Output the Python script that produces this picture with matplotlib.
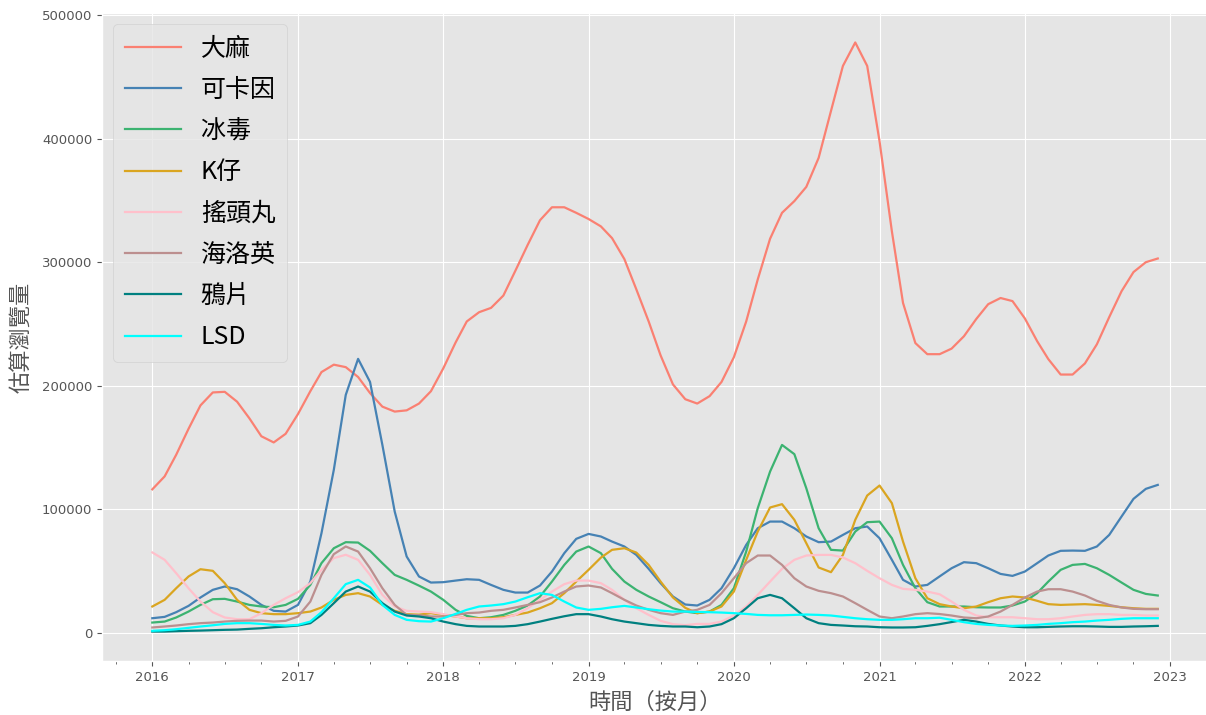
import matplotlib
matplotlib.use("Agg")
import matplotlib.pyplot as plt
import matplotlib.dates as mdates
import pandas as pd

# ---- data (monthly, 2016-01 .. 2022-12) ----
dates = pd.date_range("2016-01-01", periods=84, freq="MS")

labels = ["大麻", "可卡因", "冰毒", "K仔", "搖頭丸", "海洛英", "鴉片", "LSD"]
colors = ["salmon", "steelblue", "mediumseagreen", "goldenrod", "pink", "rosybrown", "teal", "cyan"]

cannabis = [116000, 126500, 144000, 165000, 184000, 194500, 195000, 187000, 173500, 159000, 154000, 161000,
            177000, 195500, 211000, 217000, 215000, 207000, 194000, 183000, 179000, 180000, 185500, 195500,
            214000, 235000, 252000, 259500, 263000, 273000, 293000, 314000, 334000, 344500, 344500, 340000,
            335000, 329000, 319500, 302500, 278000, 252000, 224500, 201000, 189000, 185500, 191500, 203000,
            223000, 252000, 286000, 319000, 340000, 349500, 361000, 384500, 422500, 459000, 478000, 459000,
            398000, 325000, 267000, 234500, 225500, 225500, 230000, 240000, 254000, 266000, 271000, 268500,
            254500, 236000, 221500, 209000, 209000, 218000, 233500, 255500, 276500, 292000, 300000, 303000]

cocaine = [11600, 12700, 16500, 21600, 28400, 34600, 37300, 35100, 29200, 22400, 17600, 17000,
           22400, 41300, 80500, 131800, 192500, 221700, 203000, 152000, 98000, 61600, 45400, 40500,
           40800, 42100, 43200, 42700, 38600, 34600, 32400, 32400, 38100, 49400, 64300, 75900,
           79900, 77800, 73700, 69700, 62900, 51600, 40000, 29200, 22700, 21900, 26500, 35900,
           52100, 71000, 84500, 89900, 89900, 84500, 77800, 73200, 73700, 79100, 84500, 85900,
           76400, 58900, 42700, 37300, 38600, 45500, 52100, 57000, 56200, 52100, 47500, 45900,
           49400, 56200, 62400, 66200, 66400, 66200, 69700, 79100, 94000, 108300, 116400, 119600]

meth = [8100, 8900, 12200, 17000, 22400, 27000, 27300, 25100, 22400, 21100, 20500, 22400,
        27300, 38600, 56200, 68300, 73200, 72900, 66200, 56200, 46700, 42700, 38000, 33200,
        26500, 18400, 13500, 11600, 12400, 14300, 17600, 21900, 29200, 41300, 54800, 65600,
        69700, 64300, 51600, 41300, 34600, 29200, 24600, 19700, 17000, 15700, 17000, 22400,
        35900, 65600, 100700, 130400, 152000, 144500, 116900, 84500, 67000, 66400, 81800, 89400,
        89900, 76400, 54800, 35900, 24600, 21100, 21100, 21100, 20500, 20300, 20300, 21900,
        25100, 31900, 41300, 50800, 54800, 55600, 52100, 46700, 40500, 34600, 31300, 30000]

ketamine = [21100, 26500, 35900, 45400, 51300, 50000, 40000, 26500, 18400, 15700, 14900, 14900,
            15700, 17000, 20300, 26500, 30500, 31900, 29200, 22400, 17600, 14900, 14500, 15700,
            14300, 13000, 11600, 11600, 11600, 12400, 14300, 16200, 19700, 23800, 31900, 41300,
            50800, 60700, 67000, 68300, 64800, 54800, 41300, 28400, 20000, 15700, 17000, 21100,
            33200, 58900, 81800, 101300, 104000, 91300, 72400, 52700, 48900, 62900, 91300, 111000,
            119100, 104800, 73700, 44000, 27800, 23000, 21100, 19700, 21100, 24600, 27800, 29200,
            28400, 25700, 23000, 22400, 22700, 23000, 22400, 21600, 20500, 19700, 19200, 19200]

ecstasy = [64900, 58900, 48100, 35900, 25100, 16500, 12200, 10800, 10800, 15700, 22400, 27800,
           32700, 40000, 50800, 60300, 63000, 58900, 46700, 30500, 21100, 17600, 17000, 16500,
           14900, 13000, 11600, 10800, 10800, 11600, 14300, 19700, 26500, 33200, 39200, 42100,
           42100, 40000, 34600, 26500, 19700, 14300, 9500, 6800, 6000, 7000, 7000, 8900,
           13800, 21100, 30500, 41300, 51600, 58900, 62400, 62900, 62900, 60800, 56200, 50000,
           44000, 38600, 35400, 34600, 33200, 31000, 25100, 18400, 13800, 12400, 12400, 12400,
           11600, 10800, 10800, 11600, 13000, 14300, 14900, 14900, 14300, 14300, 13800, 13800]

heroin = [4100, 4900, 5700, 6800, 7600, 8100, 8900, 9500, 9700, 9700, 8900, 9500,
          13000, 25100, 46700, 63500, 69700, 65600, 52100, 35900, 22400, 14300, 14000, 13000,
          13000, 14300, 15700, 16200, 17600, 18400, 20300, 22400, 24600, 28400, 33200, 37300,
          38100, 36500, 31900, 26500, 21900, 18400, 15700, 14300, 17000, 18400, 22400, 31900,
          44000, 56200, 62400, 62400, 54800, 44000, 37300, 33800, 31900, 29200, 23800, 18400,
          13000, 11600, 13000, 14900, 15700, 15000, 13800, 12200, 11600, 13000, 17000, 22400,
          28400, 33200, 35100, 35100, 33200, 30000, 25700, 22400, 20300, 19200, 18900, 18900]

opium = [800, 800, 1100, 1400, 1600, 1900, 2200, 2400, 3000, 3500, 4300, 4900,
         5700, 7600, 14300, 23800, 33200, 37300, 33200, 23800, 17000, 13800, 13000, 11600,
         8900, 6800, 5400, 4900, 4900, 4900, 5400, 6800, 8900, 11100, 13200, 14900,
         14900, 13000, 10800, 8900, 7600, 6200, 5400, 4900, 4900, 4300, 4900, 6800,
         11600, 19700, 27800, 30500, 27800, 19700, 11600, 7600, 6200, 5700, 5100, 4900,
         4300, 4100, 4100, 4300, 5400, 6800, 8500, 10300, 8900, 7000, 5700, 4900,
         4300, 4300, 4600, 4900, 5100, 5100, 4900, 4600, 4600, 4900, 5100, 5400]

lsd = [1400, 1900, 2700, 3800, 4900, 5900, 7000, 7600, 7600, 7000, 6200, 5700,
       6200, 8900, 16500, 27800, 39200, 42700, 36500, 22400, 14300, 10300, 9200, 8900,
       11600, 15100, 18400, 21100, 21900, 23000, 25100, 28600, 31900, 30500, 25100, 20300,
       18400, 19200, 20500, 21600, 20300, 18900, 17800, 17000, 17000, 16700, 16500, 16200,
       15700, 15100, 14300, 14000, 14000, 14300, 14600, 14300, 13800, 12700, 11600, 10800,
       10300, 10300, 10800, 11600, 11600, 12000, 10300, 8400, 7000, 6200, 5700, 5400,
       5700, 6200, 7000, 7600, 8400, 8900, 9700, 10300, 11100, 11600, 11600, 11600]

series = [cannabis, cocaine, meth, ketamine, ecstasy, heroin, opium, lsd]

# ---- plotting ----
plt.style.use("ggplot")
plt.rcParams["font.family"] = ["Noto Sans CJK TC", "DejaVu Sans"]

fig = plt.figure(figsize=(12.06, 7.15), dpi=100)
ax = fig.add_axes([0.0846, 0.0755, 0.9171, 0.9063])

for vals, lab, col in zip(series, labels, colors):
    ax.plot(dates, vals, color=col, linewidth=1.6, label=lab)

ax.xaxis.set_major_locator(mdates.YearLocator())
ax.xaxis.set_major_formatter(mdates.DateFormatter("%Y"))
ax.xaxis.set_minor_locator(mdates.MonthLocator(bymonth=[1, 4, 7, 10]))
ax.tick_params(axis="both", which="major", labelsize=9.5, colors="#555555")
ax.tick_params(axis="x", which="minor", length=2, colors="#555555")
for t in ax.get_xticklabels() + ax.get_yticklabels():
    t.set_family(["DejaVu Sans"])

ax.set_xlabel("時間（按月）", fontsize=16, color="#555555", labelpad=5)
ax.set_ylabel("估算瀏覽量", fontsize=16, color="#555555", labelpad=6)

leg = ax.legend(loc="upper left", fontsize=18, handlelength=2.25, handletextpad=0.8,
                labelspacing=0.61, borderpad=0.45, borderaxespad=0.45)

fig.savefig("out.png", dpi=100)
